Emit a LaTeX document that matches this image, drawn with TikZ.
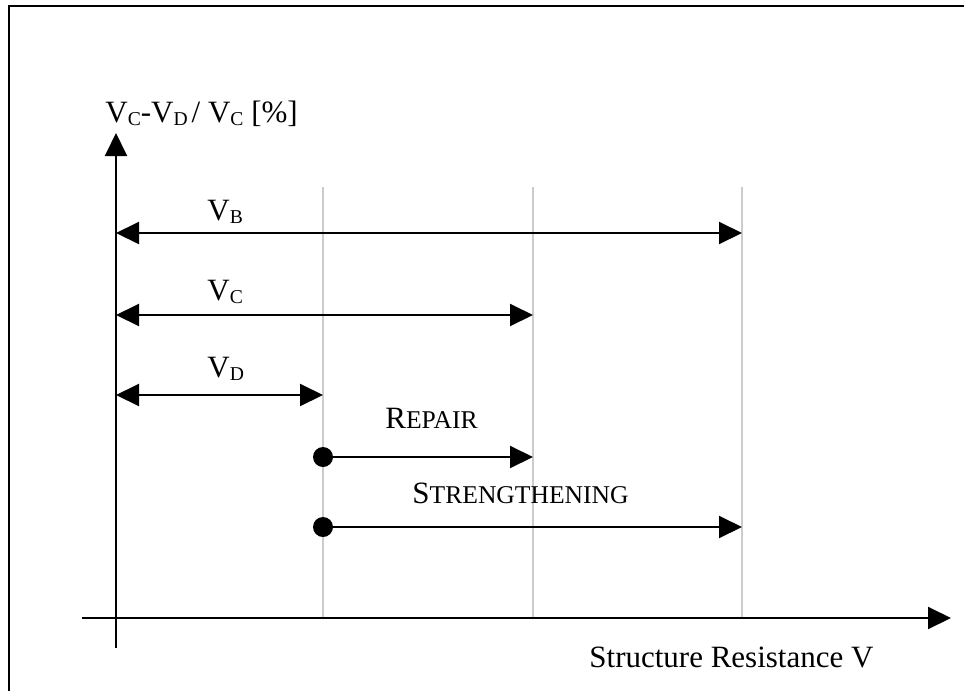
\documentclass[tikz,border=0pt]{standalone}
\usepackage{fontspec}
\setmainfont{Liberation Serif}
\usetikzlibrary{arrows.meta}

\newcommand{\lowsub}[1]{\raisebox{-1.7pt}{\fontsize{9.8}{10}\selectfont #1}}
\newcommand{\fakesc}[2]{#1{\fontsize{12.8}{14}\selectfont #2}}

\begin{document}
\begin{tikzpicture}[>={Triangle[length=11.5pt,width=11pt]}, x=0.5pt, y=-0.5pt,
    font=\fontsize{15.5}{18}\selectfont,
    axis/.style={line width=1pt},
    guide/.style={gray!40, line width=0.6pt},
    span/.style={line width=1pt},
    dot/.style={circle, fill, inner sep=0pt, minimum size=10pt},
    lbl/.style={anchor=base west, inner sep=0pt}]
    \useasboundingbox (0,0) rectangle (964,691);

    % 1. Khung
    \draw[line width=0.9pt] (9,691) -- (9,6) -- (964,6);

    % 2. Duong giong mau xam
    \foreach \gx in {323,533,742}
        \draw[guide] (\gx,187) -- (\gx,618);

    % 3. Truc toa do
    \coordinate (yb) at (116,648);
    \coordinate (yt) at (116,133);
    \coordinate (xl) at (82,618);
    \coordinate (xr) at (951,618);
    \draw[axis,->] (yb) -- (yt);
    \draw[axis,->] (xl) -- (xr);
    \node[lbl] (ylab) at (105,122)
        {V\lowsub{C}-V\lowsub{D}\kern2pt/ V\lowsub{C} [\%]};
    \node[lbl] (xlab) at (589,667) {Structure Resistance V};

    % 4. Cac khoang V_B, V_C, V_D
    \coordinate (b0) at (116,233); \coordinate (b1) at (742,233);
    \coordinate (c0) at (116,315); \coordinate (c1) at (533,315);
    \coordinate (d0) at (116,395); \coordinate (d1) at (323,395);
    \draw[span,<->] (b0) -- (b1);
    \draw[span,<->] (c0) -- (c1);
    \draw[span,<->] (d0) -- (d1);
    \node[lbl] (vb) at (207,220) {V\lowsub{B}};
    \node[lbl] (vc) at (207,300) {V\lowsub{C}};
    \node[lbl] (vd) at (207,377) {V\lowsub{D}};

    % 5. Sua chua va gia cuong
    \node[dot] (r0) at (323,457) {};
    \coordinate (r1) at (533,457);
    \draw[span,->] (r0) -- (r1);
    \node[lbl] (rep) at (385,428) {\fakesc{R}{EPAIR}};

    \node[dot] (s0) at (323,527) {};
    \coordinate (s1) at (742,527);
    \draw[span,->] (s0) -- (s1);
    \node[lbl] (str) at (412,503) {\fakesc{S}{TRENGTHENING}};
\end{tikzpicture}
\end{document}
